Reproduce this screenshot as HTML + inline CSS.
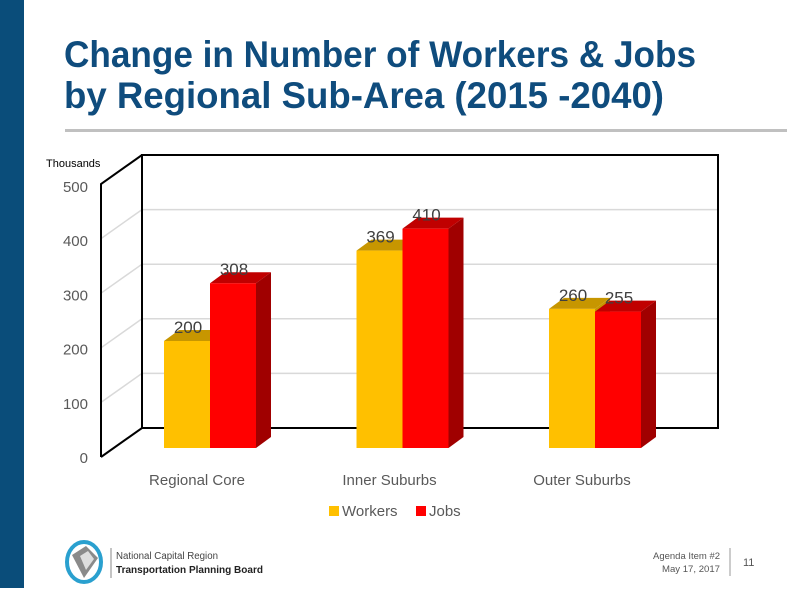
<!DOCTYPE html>
<html><head><meta charset="utf-8"><style>
html,body{margin:0;padding:0;background:#fff;}
body{width:787px;height:588px;overflow:hidden;position:relative;font-family:"Liberation Sans",sans-serif;}
</style></head><body>
<svg width="787" height="588" xmlns="http://www.w3.org/2000/svg">
<rect x="0" y="0" width="24" height="588" fill="#0a4d7a"/>
<g font-family="'Liberation Sans Narrow','Liberation Sans',sans-serif" font-weight="bold" font-size="37" fill="#0f4c7d">
<text x="64" y="67" textLength="632" lengthAdjust="spacingAndGlyphs">Change in Number of Workers &amp; Jobs</text>
<text x="64" y="108" textLength="600" lengthAdjust="spacingAndGlyphs">by Regional Sub-Area (2015 -2040)</text>
</g>
<rect x="65" y="129" width="722" height="3" fill="#c0c0c0"/>
<g id="chart"></g>
<g>
<g>
<ellipse cx="84" cy="562" rx="17" ry="20" fill="none" stroke="#2aa0cf" stroke-width="4"/>
<path d="M72 555 L86 546 L98 558 L84 578 Z" fill="#8a8a8a"/>
<path d="M80 556 L88 551 L94 559 L86 570 Z" fill="#ddd"/>
</g>
<line x1="111" y1="548" x2="111" y2="578" stroke="#888" stroke-width="1"/>
<text x="116" y="559" font-size="10" fill="#444" textLength="102" lengthAdjust="spacingAndGlyphs">National Capital Region</text>
<text x="116" y="573" font-size="10.5" font-weight="bold" fill="#222" textLength="147" lengthAdjust="spacingAndGlyphs">Transportation Planning Board</text>
<text x="720" y="559" font-size="9.5" fill="#555" text-anchor="end" textLength="67" lengthAdjust="spacingAndGlyphs">Agenda Item #2</text>
<text x="720" y="572" font-size="9.5" fill="#555" text-anchor="end" textLength="58" lengthAdjust="spacingAndGlyphs">May 17, 2017</text>
<line x1="730" y1="548" x2="730" y2="576" stroke="#999"/>
<text x="743" y="566" font-size="11" fill="#555">11</text>
</g>
</svg>
<script>
const categories = ["Regional Core","Inner Suburbs","Outer Suburbs"];
const workers = [200,369,260];
const jobs = [308,410,255];
const ticks = [0,100,200,300,400,500];
const seriesNames = ["Workers","Jobs"];

const NS="http://www.w3.org/2000/svg";
const g=document.getElementById('chart');
function mk(t,a,p){const e=document.createElementNS(NS,t);for(const k in a)e.setAttribute(k,a[k]);(p||g).appendChild(e);return e;}
const DX=41, DY=-29;
const backLeft=142, backRight=718, back0=428, back500=155;
const yBack=v=>back0-(back0-back500)*v/500;
const yFront=v=>457-(457-186)*v/500;
const yBar=v=>448-0.535*v;
ticks.forEach(t=>{
  const l=mk('polyline',{points:`${backLeft-DX},${yBack(t)-DY} ${backLeft},${yBack(t)} ${backRight},${yBack(t)}`,fill:'none',stroke:t===0?'#d0d0d0':'#d9d9d9','stroke-width':1.5});
  
  
  const tx=mk('text',{x:88,y:yFront(t)+6,'font-size':15,fill:'#595959','text-anchor':'end'});
  tx.textContent=t;
  
  
});
const w=mk('polyline',{points:`${backLeft},${yBack(0)} ${backLeft},${back500} ${backRight},${back500} ${backRight},${yBack(0)} ${backLeft},${yBack(0)} ${backLeft-DX},${yBack(0)-DY} `,fill:'none',stroke:'#000','stroke-width':2});


const ax=mk('polyline',{points:`${backLeft},${back500} ${backLeft-DX},${back500-DY} ${backLeft-DX},${yBack(0)-DY}`,fill:'none',stroke:'#000','stroke-width':2});


const th=mk('text',{x:46,y:167,'font-size':11,fill:'#000'});th.textContent='Thousands';


const bw=46, sd=15, su=11;
function bar(x,v,front,top,side,name,label){
  const yt=yBar(v), yb=yBar(0);
  const grp=mk('g',{});
  
  
  mk('polygon',{points:`${x+bw},${yt} ${x+bw+sd},${yt-su} ${x+bw+sd},${yb-su} ${x+bw},${yb}`,fill:side},grp);
  mk('polygon',{points:`${x},${yt} ${x+sd},${yt-su} ${x+bw+sd},${yt-su} ${x+bw},${yt}`,fill:top},grp);
  mk('rect',{x:x,y:yt,width:bw,height:yb-yt,fill:front},grp);
  const t=mk('text',{x:x+bw/2+1,y:yt-8,'font-size':17,fill:'#404040','text-anchor':'middle'});
  t.textContent=label;
  
  
}
const center=i=>210+192.5*i;
categories.forEach((c,i)=>{
  bar(center(i)-bw,workers[i],'#ffc000','#c79600','#c79600','bar-workers-'+i,workers[i]);
  bar(center(i),jobs[i],'#ff0000','#c00000','#a00000','bar-jobs-'+i,jobs[i]);
  const t=mk('text',{x:center(i)-13,y:485,'font-size':15,fill:'#595959','text-anchor':'middle'});
  t.textContent=c;
  
  
});
const lc=['#ffc000','#ff0000'];
const lx=[329,416];
seriesNames.forEach((s,i)=>{
  const lg=mk('g',{});
  
  
  mk('rect',{x:lx[i],y:506,width:10,height:10,fill:lc[i]},lg);
  const t=mk('text',{x:lx[i]+13,y:516,'font-size':15,fill:'#595959'},lg);t.textContent=s;
});
</script>
</body></html>
